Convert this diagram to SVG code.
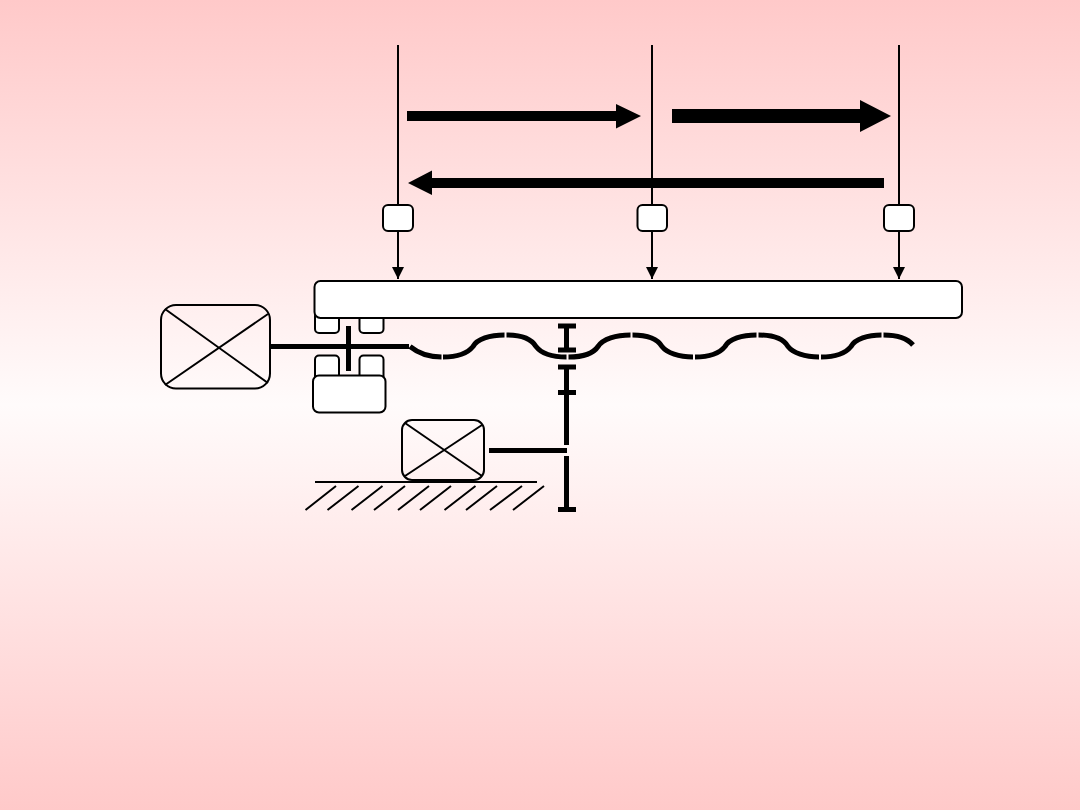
<svg xmlns="http://www.w3.org/2000/svg" width="1080" height="810" viewBox="0 0 1080 810">
  <style>
    .box { fill: #fff; stroke: #000; stroke-width: 2; }
    .motor { fill: none; stroke: #000; stroke-width: 2; }
    .thin { fill: none; stroke: #000; stroke-width: 2; }
    .hatch { fill: none; stroke: #000; stroke-width: 2; }
    .thick { fill: none; stroke: #000; stroke-width: 5; }
    .screw { fill: none; stroke: #000; stroke-width: 5; }
    .solid { fill: #000; }
  </style>
  <defs>
    <linearGradient id="bg" x1="0" y1="0" x2="0" y2="1">
      <stop offset="0" stop-color="#ffc9c9"/>
      <stop offset="0.5" stop-color="#fffbfb"/>
      <stop offset="1" stop-color="#ffc9c9"/>
    </linearGradient>
    <marker id="tip" markerUnits="userSpaceOnUse" markerWidth="12" markerHeight="13" refX="12" refY="6" orient="auto">
      <path d="M0 0L12 6L0 12Z" fill="#000"/>
    </marker>
  </defs>
  <rect id="background" width="1080" height="810" fill="url(#bg)"/>

  <g id="connectors">
    <!-- sensor rods and their drops onto the table -->
    <path class="thin" d="M398 45V205M652 45V205M899 45V205"/>
    <path class="thin" d="M398 231V279" marker-end="url(#tip)"/>
    <path class="thin" d="M652 231V279" marker-end="url(#tip)"/>
    <path class="thin" d="M899 231V279" marker-end="url(#tip)"/>
    <!-- travel direction arrows -->
    <path class="solid" d="M407 111H616V104L641 116L616 128.500V121H407Z"/>
    <path class="solid" d="M672 109H860V100L891 116L860 132V123H672Z"/>
    <path class="solid" d="M884 178H432V170.500L408 183L432 195V188H884Z"/>
  </g>

  <g id="bearing-upper-left"><rect class="box" x="315" y="312" width="24" height="21" rx="4"/></g>
  <g id="bearing-upper-right"><rect class="box" x="359.500" y="312" width="24" height="21" rx="4"/></g>
  <g id="bearing-lower-left"><rect class="box" x="315" y="355.500" width="24" height="26" rx="4"/></g>
  <g id="bearing-lower-right"><rect class="box" x="359.500" y="355.500" width="24" height="26" rx="4"/></g>
  <g id="bearing-base"><rect class="box" x="313" y="375.500" width="72.500" height="37" rx="6"/></g>
  <g id="table"><rect class="box" x="314.500" y="281" width="647.500" height="37" rx="6"/></g>

  <g id="sensor-left"><rect class="box" x="383" y="205" width="30" height="26" rx="5"/></g>
  <g id="sensor-middle"><rect class="box" x="637.500" y="205" width="29.500" height="26" rx="5"/></g>
  <g id="sensor-right"><rect class="box" x="884" y="205" width="30" height="26" rx="5"/></g>

  <g id="main-motor">
    <rect class="motor" x="161" y="305" width="109" height="83.500" rx="15"/>
    <path class="thin" d="M165 309L268 383M165 385L268 314"/>
  </g>
  <g id="feed-motor">
    <rect class="motor" x="402" y="420" width="82" height="60" rx="10"/>
    <path class="thin" d="M405 423L482 476M405 476L482 425"/>
  </g>

  <g id="ground">
    <path class="thin" d="M315 482H537"/>
    <path class="hatch" d="M305.500 510L336 486M327.500 510L358.500 486M351.500 510L382.500 486M374 510L405 486M398 510L429 486M420 510L451 486M444.500 510L475.500 486M466 510L497 486M490 510L522 486M513 510L544 486"/>
  </g>

  <g id="lead-screw">
    <path class="thick" d="M271 346.500H409"/>
    <path class="thick" d="M348.500 326V371"/>
    <path class="screw" d="M410 346.500C418 353 429 357 441.500 357M443 357C456 357 467 354 473 346.500C477 339 490 335 504.500 335M506.500 335C519 335 531 338 536 346.500C541 353 552 357 566.500 357M568.500 357C582 357 593 354 598 346.500C603 339 616 335 630.500 335M632.500 335C645 335 657 338 662 346.500C667 353 679 357 693 357M695 357C708 357 719 354 725 346.500C729 339 742 335 756.500 335M758.500 335C771 335 783 338 788 346.500C793 353 805 357 819 357M821 357C834 357 845 354 851 346.500C855 339 868 335 881.500 335M883.500 335C895 335 907 338 913 345"/>
  </g>

  <g id="gear-train">
    <path class="thick" d="M566.500 326V350M566.500 367V392.500M566.500 392.500V445M566.500 456V509M489 450.500H567"/>
    <path class="thick" d="M558 326H576M558 350H576M558 367H576M558 392.500H576M558 509.500H576"/>
  </g>
</svg>
